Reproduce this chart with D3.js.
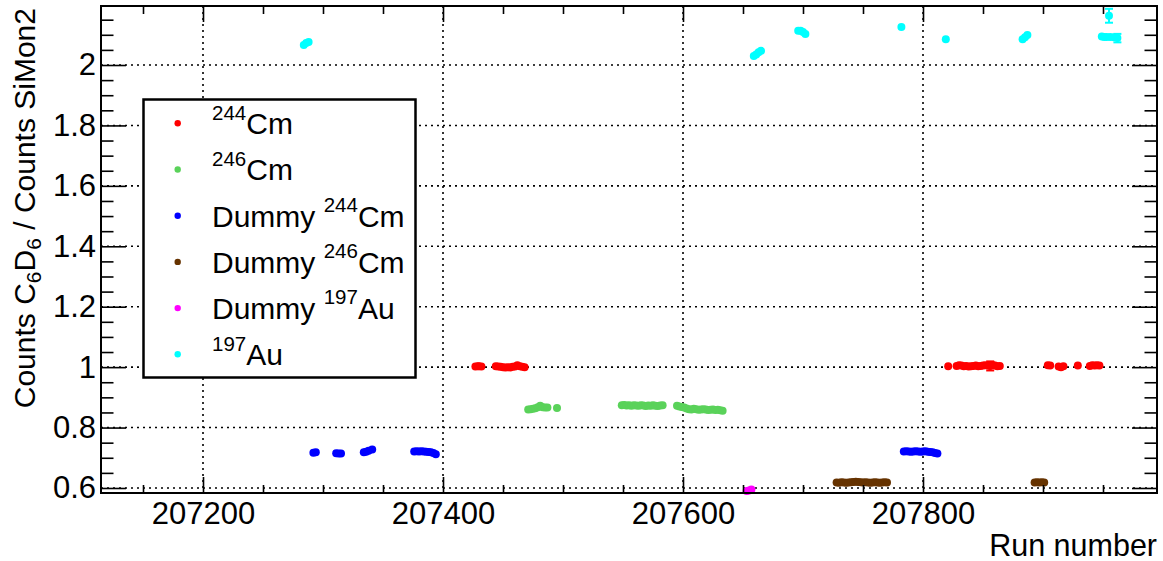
<!DOCTYPE html>
<html><head><meta charset="utf-8">
<script src="https://cdn.jsdelivr.net/npm/d3@7"></script>
<style>
html,body{margin:0;padding:0;background:#fff;}
svg{display:block;}
text{font-family:"Liberation Sans", Arial, Helvetica, sans-serif;fill:#000;}
</style></head><body>
<svg id="chart" width="1163" height="561"></svg>
<script>
// ---------------- data ----------------
const cm244Runs = [207427,207429,207430,207432,
  207444,207446,207448,207450,207452,207454,207456,207458,207460,207462,207464,207466,207468,
  207821,207828,207830,207832,207834,207836,207838,207840,207842,207844,207846,207848,207850,207852,207854,207856,207858,207860,207862,207864,
  207904,207906,207913,207915,207917,207929,207939,207941,207943,207945,207947];
const cm244Values = [1.002,1.003,1.003,1.002,
  1.003,1.002,1.001,1.000,0.999,1.000,0.999,1.001,1.002,1.006,1.003,1.001,1.000,
  1.003,1.004,1.006,1.005,1.003,1.004,1.002,1.003,1.004,1.005,1.003,1.004,1.005,1.006,1.005,1.004,1.007,1.005,1.003,1.004,
  1.006,1.005,1.002,1.000,1.003,1.005,1.004,1.006,1.005,1.006,1.005];
const cm244ErrRuns = [207856];
const cm244ErrSizes = [0.015];

const cm246Runs = [207471,207473,207475,207477,207479,207481,207483,207485,207487,207495,
  207549,207551,207553,207555,207557,207559,207561,207563,207565,207567,207569,207571,207573,207575,207577,207579,207581,207583,
  207595,207597,207599,207601,207603,207605,207607,207609,207611,207613,207615,207617,207619,207621,207623,207625,207627,207629,207631,207633];
const cm246Values = [0.860,0.861,0.862,0.864,0.867,0.872,0.867,0.866,0.866,0.865,
  0.874,0.875,0.873,0.874,0.872,0.874,0.873,0.872,0.874,0.873,0.871,0.873,0.872,0.874,0.872,0.871,0.873,0.874,
  0.872,0.870,0.868,0.866,0.863,0.861,0.860,0.862,0.861,0.859,0.860,0.861,0.860,0.858,0.859,0.860,0.858,0.859,0.857,0.856];

const dummy244Runs = [207292,207294,207311,207313,207315,207334,207336,207338,207341,
  207376,207378,207380,207382,207384,207386,207388,207390,207392,207394,
  207784,207786,207788,207790,207792,207794,207796,207798,207800,207802,207804,207806,207808,207810,207812];
const dummy244Values = [0.717,0.718,0.715,0.714,0.714,0.718,0.720,0.723,0.727,
  0.721,0.722,0.721,0.722,0.721,0.720,0.719,0.718,0.716,0.712,
  0.721,0.722,0.721,0.720,0.721,0.722,0.721,0.720,0.721,0.722,0.720,0.719,0.718,0.716,0.714];

const dummy246Runs = [207728,207730,207732,207734,207736,207738,207740,207742,207744,207746,207748,
  207750,207752,207754,207756,207758,207760,207762,207764,207766,207768,207770,
  207893,207895,207897,207899,207901];
const dummy246Values = [0.618,0.617,0.619,0.618,0.617,0.618,0.619,0.620,0.621,0.620,0.619,
  0.618,0.619,0.618,0.617,0.618,0.619,0.618,0.617,0.618,0.619,0.618,
  0.618,0.619,0.618,0.619,0.618];

const dummyAuRuns = [207653,207655,207657];
const dummyAuValues = [0.590,0.592,0.595];

const au197Runs = [207284,207286,207288,207659,207661,207663,207665,207696,207698,207700,207702,
  207782,207819,207883,207885,207887,207949,207951,207953,207955,207956,207959,207962];
const au197Values = [2.066,2.073,2.076,2.030,2.035,2.042,2.047,2.113,2.113,2.109,2.103,
  2.126,2.085,2.085,2.092,2.099,2.094,2.093,2.093,2.163,2.093,2.092,2.089];
const au197ErrRuns = [207955,207962];
const au197ErrSizes = [0.023,0.014];

const xMajorTicks = [207200,207400,207600,207800];
const yMajorTicks = [0.6,0.8,1.0,1.2,1.4,1.6,1.8,2.0];

const legendPre  = ["", "", "Dummy ", "Dummy ", "Dummy ", ""];
const legendSup  = ["244","246","244","246","197","197"];
const legendPost = ["Cm","Cm","Cm","Cm","Au","Au"];

// ---------------- layout ----------------
const colors = ["#ff0000","#5ad25a","#0000ff","#663300","#ff00ff","#00ffff"];
const seriesList = [
  {runs:cm244Runs, vals:cm244Values, errRuns:cm244ErrRuns, errSizes:cm244ErrSizes},
  {runs:cm246Runs, vals:cm246Values, errRuns:[], errSizes:[]},
  {runs:dummy244Runs, vals:dummy244Values, errRuns:[], errSizes:[]},
  {runs:dummy246Runs, vals:dummy246Values, errRuns:[], errSizes:[]},
  {runs:dummyAuRuns, vals:dummyAuValues, errRuns:[], errSizes:[]},
  {runs:au197Runs, vals:au197Values, errRuns:au197ErrRuns, errSizes:au197ErrSizes}
];

const L = 101, R = 1157, T = 6, B = 493;
const svg = d3.select("#chart");
svg.append("rect").attr("width",1163).attr("height",561).attr("fill","#fff");

const x = d3.scaleLinear().domain([207115, 207995]).range([L, R]);
const y = d3.scaleLinear().domain([0.5834, 2.1953]).range([B, T]);

const xMinor = d3.range(207150, 207995, 50).filter(v => !xMajorTicks.includes(v));
const yMinor = d3.range(0.6, 2.19, 0.05).map(v => +v.toFixed(2)).filter(v => !yMajorTicks.some(m => Math.abs(m - v) < 1e-6));

// grid
const grid = svg.append("g").attr("stroke","#000").attr("stroke-width",1.6).attr("stroke-dasharray","2,4");
grid.selectAll("line.gx").data(xMajorTicks).join("line")
  .attr("x1", d => x(d)).attr("x2", d => x(d)).attr("y1", T).attr("y2", B);
grid.selectAll("line.gy").data(yMajorTicks).join("line")
  .attr("x1", L).attr("x2", R).attr("y1", d => y(d)).attr("y2", d => y(d));

// error bars and points
seriesList.forEach((s, i) => {
  const g = svg.append("g");
  const errs = s.errRuns.map((r, k) => ({run:r, v:s.vals[s.runs.indexOf(r)], e:s.errSizes[k]}));
  g.selectAll("line.eb").data(errs).join("line")
    .attr("x1", d => x(d.run)).attr("x2", d => x(d.run))
    .attr("y1", d => y(d.v + d.e)).attr("y2", d => y(d.v - d.e))
    .attr("stroke", colors[i]).attr("stroke-width", 2);
  errs.forEach(d => {
    [d.v + d.e, d.v - d.e].forEach(v => {
      g.append("line").attr("x1", x(d.run) - 4).attr("x2", x(d.run) + 4)
        .attr("y1", y(v)).attr("y2", y(v)).attr("stroke", colors[i]).attr("stroke-width", 2);
    });
  });
  g.selectAll("circle").data(s.runs.map((r, k) => [r, s.vals[k]])).join("circle")
    .attr("cx", d => x(d[0])).attr("cy", d => y(d[1])).attr("r", 4)
    .attr("fill", colors[i]);
});

// axes
const fmtY = d => String(+d.toFixed(1));
function styleAxis(g){ g.select(".domain").remove(); g.selectAll(".tick line").attr("stroke","#000").attr("stroke-width",1.6); }
svg.append("g").attr("transform",`translate(0,${B})`)
  .call(d3.axisBottom(x).tickValues(xMajorTicks).tickSize(-16).tickPadding(9).tickFormat(d3.format("d")))
  .call(styleAxis)
  .call(g => g.selectAll("text").attr("font-size",31).attr("font-family","Liberation Sans, Arial, sans-serif").attr("fill","#000"));
svg.append("g").attr("transform",`translate(0,${B})`)
  .call(d3.axisBottom(x).tickValues(xMinor).tickSize(-8).tickFormat("")).call(styleAxis);
svg.append("g").attr("transform",`translate(0,${T})`)
  .call(d3.axisTop(x).tickValues(xMajorTicks).tickSize(-16).tickFormat("")).call(styleAxis);
svg.append("g").attr("transform",`translate(0,${T})`)
  .call(d3.axisTop(x).tickValues(xMinor).tickSize(-8).tickFormat("")).call(styleAxis);

svg.append("g").attr("transform",`translate(${L},0)`)
  .call(d3.axisLeft(y).tickValues(yMajorTicks).tickSize(-25).tickPadding(5).tickFormat(fmtY))
  .call(styleAxis)
  .call(g => g.selectAll("text").attr("font-size",31).attr("font-family","Liberation Sans, Arial, sans-serif").attr("fill","#000"));
svg.append("g").attr("transform",`translate(${L},0)`)
  .call(d3.axisLeft(y).tickValues(yMinor).tickSize(-12.5).tickFormat("")).call(styleAxis);
svg.append("g").attr("transform",`translate(${R},0)`)
  .call(d3.axisRight(y).tickValues(yMajorTicks).tickSize(-25).tickFormat("")).call(styleAxis);
svg.append("g").attr("transform",`translate(${R},0)`)
  .call(d3.axisRight(y).tickValues(yMinor).tickSize(-12.5).tickFormat("")).call(styleAxis);

// frame
svg.append("rect").attr("x",L).attr("y",T).attr("width",R-L).attr("height",B-T)
  .attr("fill","none").attr("stroke","#000").attr("stroke-width",2);

// axis titles
svg.append("text").attr("x", R).attr("y", 556).attr("text-anchor","end")
  .attr("font-size",30.5).text("Run number");

const yt = svg.append("text").attr("transform","translate(35,8) rotate(-90)")
  .attr("text-anchor","end").attr("font-size",30);
yt.append("tspan").text("Counts C");
yt.append("tspan").attr("font-size",21).attr("dy",6).text("6");
yt.append("tspan").attr("dy",-6).text("D");
yt.append("tspan").attr("font-size",21).attr("dy",6).text("6");
yt.append("tspan").attr("dy",-6).text(" / Counts SiMon2");

// legend
const lg = svg.append("g");
lg.append("rect").attr("x",143.5).attr("y",99.5).attr("width",272).attr("height",278)
  .attr("fill","#fff").attr("stroke","#000").attr("stroke-width",2.5);
const rowY = d3.scaleLinear().domain([0,5]).range([123.3,354.3]);
legendSup.forEach((sup, i) => {
  const cy = rowY(i);
  lg.append("circle").attr("cx",177.7).attr("cy",cy).attr("r",3.2).attr("fill",colors[i]);
  const t = lg.append("text").attr("x",212).attr("y",cy + 10.8).attr("font-size",30);
  if (legendPre[i]) t.append("tspan").text(legendPre[i]);
  t.append("tspan").attr("font-size",20.5).attr("dy",-14.5).text(sup);
  t.append("tspan").attr("dy",14.5).text(legendPost[i]);
});
</script></body></html>
